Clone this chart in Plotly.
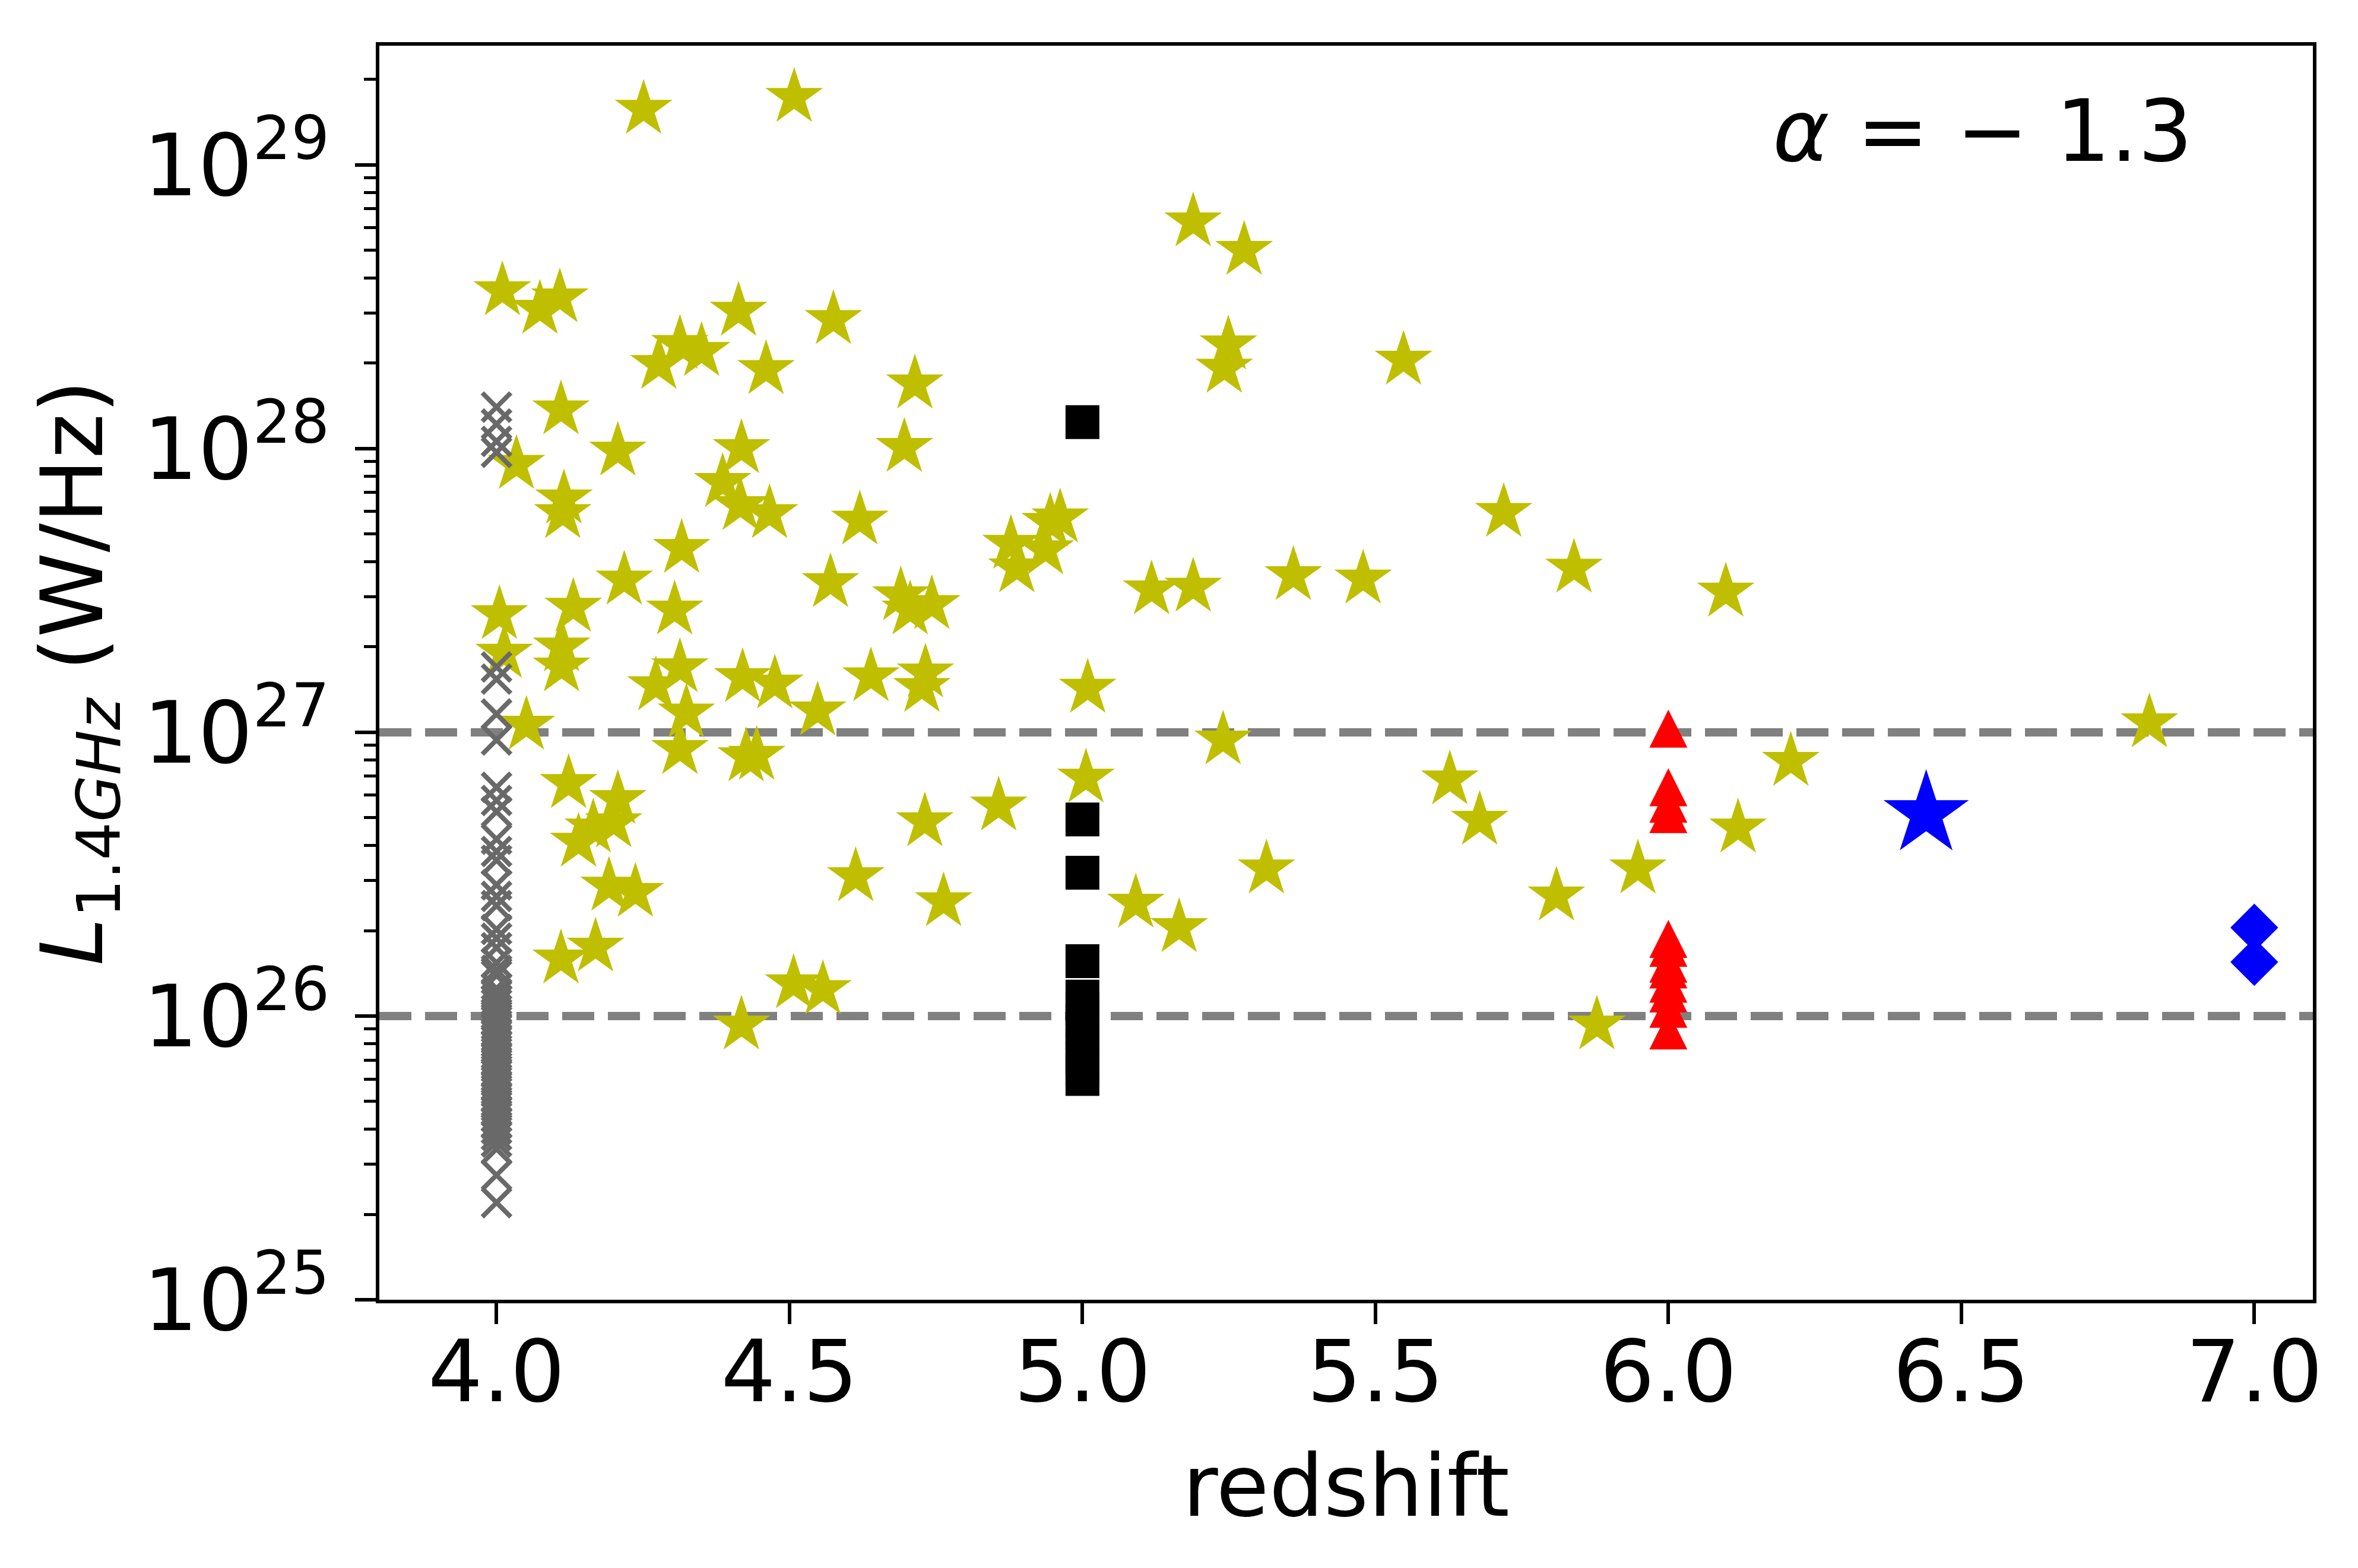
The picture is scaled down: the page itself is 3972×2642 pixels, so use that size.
import plotly.graph_objects as go

# yellow stars (literature sources)
star_z = [4.251, 4.508, 5.189, 5.276,
          4.010, 4.074, 4.108, 4.413, 4.575,
          4.277, 4.313, 4.350, 4.460, 4.714,
          5.249, 5.242, 5.548,
          4.110, 4.034, 4.207, 4.418, 4.696,
          4.115, 4.113, 4.386, 4.416, 4.466, 4.620, 4.316,
          4.878, 4.888, 4.937, 4.945, 4.962,
          5.719, 5.839, 6.098,
          4.218, 4.570, 5.118, 5.189, 5.360, 5.479,
          4.005, 4.131, 4.304, 4.690, 4.706, 4.743,
          4.013, 4.111, 4.111, 4.313, 4.272,
          4.420, 4.475, 4.639, 4.732, 4.726, 5.009,
          4.324, 4.548, 4.051, 6.821,
          4.313, 4.426, 4.444, 5.240, 6.209,
          4.123, 5.006, 5.627, 4.207, 4.857, 4.731, 5.678, 6.119,
          4.165, 4.200, 4.140,
          5.948, 5.314, 4.613, 4.192, 4.237, 5.809, 4.763, 5.091, 5.165,
          4.169, 4.110, 4.507, 4.557, 4.418, 5.878]
star_L = [1.57e29, 1.73e29, 6.3e28, 5.0e28,
          3.6e28, 3.1e28, 3.4e28, 3.05e28, 2.85e28,
          1.98e28, 2.33e28, 2.2e28, 1.9e28, 1.69e28,
          2.32e28, 1.92e28, 2.05e28,
          1.37e28, 8.8e27, 9.8e27, 1.0e28, 1.01e28,
          6.65e27, 5.9e27, 7.6e27, 6.3e27, 5.9e27, 5.6e27, 4.45e27,
          4.6e27, 3.8e27, 4.4e27, 5.5e27, 5.7e27,
          5.96e27, 3.79e27, 3.12e27,
          3.44e27, 3.37e27, 3.18e27, 3.25e27, 3.57e27, 3.47e27,
          2.6e27, 2.76e27, 2.7e27, 3.03e27, 2.7e27, 2.82e27,
          1.9e27, 2.0e27, 1.7e27, 1.69e27, 1.46e27,
          1.56e27, 1.48e27, 1.57e27, 1.62e27, 1.44e27, 1.43e27,
          1.17e27, 1.19e27, 1.06e27, 1.08e27,
          8.7e26, 8.2e26, 8.3e26, 9.4e26, 7.9e26,
          6.6e26, 6.9e26, 6.8e26, 5.8e26, 5.5e26, 4.84e26, 4.9e26, 4.6e26,
          4.6e26, 4.8e26, 4.1e26,
          3.3e26, 3.3e26, 3.1e26, 2.87e26, 2.73e26, 2.65e26, 2.53e26, 2.5e26, 2.05e26,
          1.75e26, 1.59e26, 1.3e26, 1.24e26, 9.3e25, 9.3e25]

# grey crosses at z = 4
cross_L = [1.40e28, 1.22e28, 1.06e28, 9.7e27,
           1.70e27, 1.54e27, 1.16e27, 9.4e26,
           6.4e26, 5.75e26, 5.25e26, 4.2e26, 3.8e26, 3.54e26, 2.9e26, 2.64e26,
           2.45e26, 2.02e26, 1.88e26, 1.74e26, 1.54e26, 1.45e26, 1.39e26, 1.25e26,
           1.2e26, 1.14e26, 1.10e26, 1.05e26, 1.0e26, 9.6e25, 9.1e25, 8.7e25,
           8.3e25, 7.9e25, 7.6e25, 7.2e25, 6.9e25, 6.6e25, 6.3e25, 6.0e25,
           5.7e25, 5.5e25, 5.2e25, 5.0e25, 4.8e25, 4.6e25, 4.4e25, 4.2e25,
           4.0e25, 3.8e25, 3.6e25, 3.4e25, 2.75e25, 2.2e25]

# black squares at z = 5
square_L = [1.24e28, 4.93e26, 3.2e26, 1.56e26, 1.17e26, 1.06e26, 9.6e25,
            8.7e25, 7.9e25, 7.1e25, 6.5e25, 6.0e25]

# red triangles at z = 6
tri_L = [1.03e27, 6.4e26, 5.6e26, 5.15e26, 1.87e26, 1.74e26, 1.53e26,
         1.46e26, 1.3e26, 1.2e26, 1.06e26, 8.9e25]

# blue points
bigstar_z = [6.44]
bigstar_L = [5.15e26]
diamond_L = [2.05e26, 1.55e26]

limit_lines = [1e26, 1e27]

font = "DejaVu Sans"
fs = 145

fig = go.Figure()

fig.add_trace(go.Scatter(x=star_z, y=star_L, mode="markers",
                         marker=dict(symbol="star", size=73, color="#bfbf00",
                                     line=dict(width=0))))
fig.add_trace(go.Scatter(x=[4.0]*len(cross_L), y=cross_L, mode="markers",
                         marker=dict(symbol="x-thin", size=48,
                                     line=dict(width=8, color="#696969"))))
fig.add_trace(go.Scatter(x=[5.0]*len(square_L), y=square_L, mode="markers",
                         marker=dict(symbol="square", size=57, color="black",
                                     line=dict(width=0))))
fig.add_trace(go.Scatter(x=[6.0]*len(tri_L), y=tri_L, mode="markers",
                         marker=dict(symbol="arrow-down", angle=180, standoff=32,
                                     size=64, color="red", line=dict(width=0))))
fig.add_trace(go.Scatter(x=bigstar_z, y=bigstar_L, mode="markers",
                         marker=dict(symbol="star", size=108, color="blue",
                                     line=dict(width=0))))
fig.add_trace(go.Scatter(x=[7.0]*len(diamond_L), y=diamond_L, mode="markers",
                         marker=dict(symbol="diamond", size=62, color="blue",
                                     line=dict(width=0))))

for yv in limit_lines:
    fig.add_shape(type="line", xref="paper", x0=0, x1=1, yref="y", y0=yv, y1=yv,
                  line=dict(color="#808080", width=14, dash="54px,23px"),
                  layer="below")

fig.add_annotation(text="<i>α</i> = − 1.3", xref="paper", yref="paper",
                   x=0.829, y=0.932, xanchor="center", yanchor="middle",
                   showarrow=False, font=dict(family=font, size=fs, color="black"))

major = [1e25, 1e26, 1e27, 1e28, 1e29]
minor = [m * 10.0**e for e in range(25, 30) for m in range(2, 10)]

fig.update_xaxes(range=[3.8, 7.1], tickvals=[4.0, 4.5, 5.0, 5.5, 6.0, 6.5, 7.0],
                 ticktext=["4.0", "4.5", "5.0", "5.5", "6.0", "6.5", "7.0"],
                 ticks="outside", ticklen=35, tickwidth=6, tickcolor="black",
                 showline=True, linewidth=6, linecolor="black", mirror=True,
                 showgrid=False, zeroline=False, ticklabelstandoff=-44,
                 tickfont=dict(family=font, size=fs, color="black"),
                 title=dict(text="redshift", standoff=60,
                            font=dict(family=font, size=fs, color="black")))
fig.update_yaxes(type="log", range=[25, 29.42], tickvals=major,
                 ticktext=["10<sup>%d</sup>" % e for e in range(25, 30)],
                 ticks="outside", ticklen=35, tickwidth=6, tickcolor="black",
                 minor=dict(tickmode="array", tickvals=minor, ticks="outside",
                            ticklen=20, tickwidth=5, tickcolor="black", showgrid=False),
                 showline=True, linewidth=6, linecolor="black", mirror=True,
                 showgrid=False, zeroline=False, ticklabelstandoff=14,
                 tickfont=dict(family=font, size=fs, color="black"),
                 title=dict(text="<i>L</i><sub>1.4<i>GHz</i></sub> (W/Hz)", standoff=22,
                            font=dict(family=font, size=fs, color="black")))

fig.update_layout(width=3972, height=2642, autosize=False,
                  margin=dict(l=631, r=84, t=69, b=460),
                  paper_bgcolor="white", plot_bgcolor="white",
                  showlegend=False, font=dict(family=font, size=fs, color="black"))

fig.write_html("out.html")
